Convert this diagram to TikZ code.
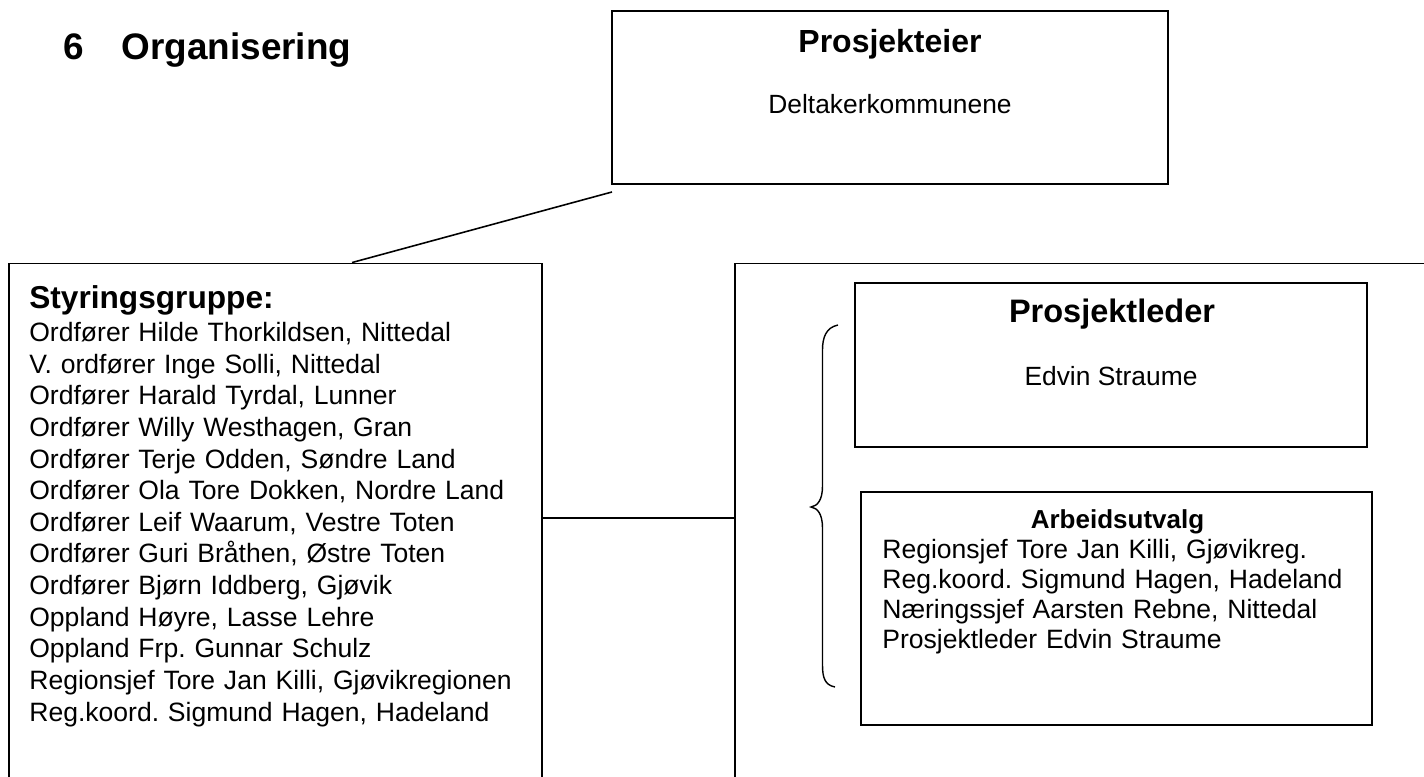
\documentclass[tikz,border=0pt]{standalone}
\usepackage{fontspec}
\setmainfont{Liberation Sans}
\frenchspacing
\usetikzlibrary{calc}
\tikzset{
  box/.style={draw, line width=1.1pt, inner sep=0pt},
  head/.style={font=\bfseries\fontsize{18.2}{22}\selectfont, inner sep=0pt, anchor=base},
  body/.style={font=\fontsize{15}{18}\selectfont, inner sep=0pt, anchor=base},
  link/.style={line width=0.9pt},
}

\begin{document}
\begin{tikzpicture}
	%%%%% FRAME %%%%%
	\useasboundingbox (0,0) rectangle (28.48,-15.52);
	\clip (0,0) rectangle (28.48,-15.52);
	
	\node[anchor=base west, inner sep=0pt, font=\bfseries\fontsize{21}{25}\selectfont] (title) at (1.26,-1.18) {6\hspace{21.5pt}Organisering};
	
	%%%%% OWNER %%%%%
	\node[box, minimum width=11.12cm, minimum height=3.46cm] (owner) at (17.8,-1.95) {};
	\node[head] (ownerhead) at (17.8,-1.04) {Prosjekteier};
	\node[body] (ownertext) at (17.8,-2.26) {Deltakerkommunene};
	
	%%%%% STEERING GROUP %%%%%
	\node[box, minimum width=10.66cm, minimum height=11.13cm] (styr) at (5.51,-10.835) {};
	\node[head, anchor=base west, font=\bfseries\fontsize{18}{22}\selectfont] (styrhead) at (0.58,-6.16) {Styringsgruppe:};
	\node[body, anchor=base west, text width=10cm, align=left, font=\fontsize{15.1}{18}\selectfont] (styrlist) at (0.58,-6.83) {Ordfører Hilde Thorkildsen, Nittedal\\
		V. ordfører Inge Solli, Nittedal\\
		Ordfører Harald Tyrdal, Lunner\\
		Ordfører Willy Westhagen, Gran\\
		Ordfører Terje Odden, Søndre Land\\
		Ordfører Ola Tore Dokken, Nordre Land\\
		Ordfører Leif Waarum, Vestre Toten\\
		Ordfører Guri Bråthen, Østre Toten\\
		Ordfører Bjørn Iddberg, Gjøvik\\
		Oppland Høyre, Lasse Lehre\\
		Oppland Frp. Gunnar Schulz\\
		Regionsjef Tore Jan Killi, Gjøvikregionen\\
		Reg.koord. Sigmund Hagen, Hadeland};
	
	%%%%% PROJECT GROUP %%%%%
	\node[box, minimum width=14.9cm, minimum height=11.13cm] (group) at (22.15,-10.835) {};
	
	\node[box, minimum width=10.24cm, minimum height=3.28cm] (leader) at (22.22,-7.3) {};
	\node[head, font=\bfseries\fontsize{18.5}{22}\selectfont] (leaderhead) at (22.24,-6.44) {Prosjektleder};
	\node[body] (leadertext) at (22.22,-7.7) {Edvin Straume};
	
	\node[box, minimum width=10.22cm, minimum height=4.66cm] (wg) at (22.33,-12.17) {};
	\node[head, font=\bfseries\fontsize{14.8}{18}\selectfont] (wghead) at (22.35,-10.56) {Arbeidsutvalg};
	\node[body, anchor=base west, text width=9.5cm, align=left, font=\fontsize{15.1}{17.1}\selectfont] (wglist) at (17.64,-11.16) {Regionsjef Tore Jan Killi, Gjøvikreg.\\
		Reg.koord. Sigmund Hagen, Hadeland\\
		Næringssjef Aarsten Rebne, Nittedal\\
		Prosjektleder Edvin Straume};
	
	%%%%% LINKS %%%%%
	\draw[link] ($(owner.south west)+(0.02,-0.14)$) -- ($(styr.north west)+(6.88,0)$);
	\coordinate (mid) at (0,-10.36);
	\draw[link] (styr.east |- mid) -- (group.west |- mid);
	
	% brace
	\draw[line width=0.8pt] (16.76,-6.5) .. controls (16.52,-6.55) and (16.45,-6.75) .. (16.45,-7.0) -- (16.45,-9.72) .. controls (16.45,-10.0) and (16.35,-10.12) .. (16.22,-10.14) .. controls (16.35,-10.16) and (16.45,-10.28) .. (16.45,-10.56) -- (16.45,-13.3) .. controls (16.45,-13.56) and (16.5,-13.7) .. (16.70,-13.74);
	
\end{tikzpicture}
\end{document}
